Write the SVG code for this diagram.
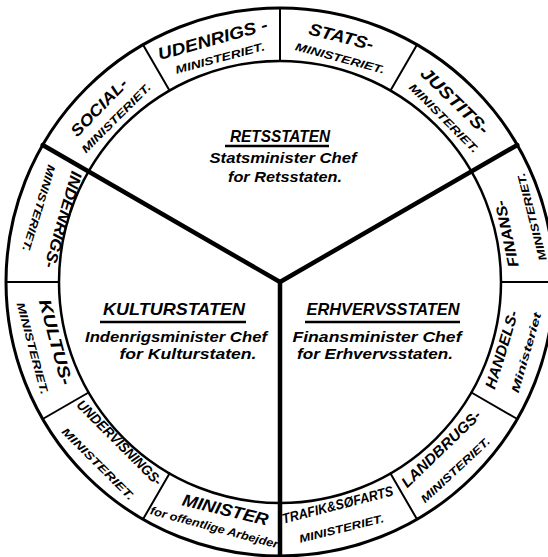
<svg xmlns="http://www.w3.org/2000/svg" width="548" height="557" viewBox="0 0 548 557">
<style>
  .bg { fill: #ffffff; }
  .outer { fill: none; stroke: #000; stroke-width: 3; }
  .inner { fill: none; stroke: #000; stroke-width: 2.5; }
  .thin { stroke: #000; stroke-width: 2; stroke-linecap: round; }
  .thick { stroke: #000; stroke-width: 4.5; stroke-linecap: round; }
  .ul { stroke: #000; stroke-width: 2.5; }
  text { font-family: "Liberation Sans", Arial, sans-serif; font-style: italic; font-weight: bold; fill: #000; text-anchor: middle; }
  .r1 { font-size: 16px; }
  .r2 { font-size: 11px; }
  .head { font-size: 17px; }
  .sub { font-size: 14px; }
</style>

<rect class="bg" x="0" y="0" width="548" height="557"/>

<g id="connectors">
  <circle class="outer" cx="280" cy="282" r="274"/>
  <circle class="inner" cx="280" cy="282" r="221"/>
  <line class="thin" x1="501" y1="282" x2="554" y2="282"/>
  <line class="thin" x1="390.5" y1="90.6" x2="417" y2="44.7"/>
  <line class="thin" x1="280" y1="61" x2="280" y2="8"/>
  <line class="thin" x1="169.5" y1="90.6" x2="143" y2="44.7"/>
  <line class="thin" x1="59" y1="282" x2="6" y2="282"/>
  <line class="thin" x1="88.6" y1="392.5" x2="42.7" y2="419"/>
  <line class="thin" x1="169.5" y1="473.4" x2="143" y2="519.3"/>
  <line class="thin" x1="390.5" y1="473.4" x2="417" y2="519.3"/>
  <line class="thin" x1="471.4" y1="392.5" x2="517.3" y2="419"/>
  <line class="thick" x1="280" y1="282" x2="517.3" y2="145"/>
  <line class="thick" x1="280" y1="282" x2="42.7" y2="145"/>
  <line class="thick" x1="280" y1="282" x2="280" y2="560"/>
</g>

<g id="retsstaten">
  <text x="280" y="142" class="head" textLength="100" lengthAdjust="spacingAndGlyphs">RETSSTATEN</text>
  <line class="ul" x1="225" y1="146" x2="329" y2="146"/>
  <text x="283" y="163" class="sub" textLength="147" lengthAdjust="spacingAndGlyphs">Statsminister Chef</text>
  <text x="285" y="182" class="sub" textLength="114" lengthAdjust="spacingAndGlyphs">for Retsstaten.</text>
</g>
<g id="kulturstaten">
  <text x="174" y="315" class="head" textLength="142" lengthAdjust="spacingAndGlyphs">KULTURSTATEN</text>
  <line class="ul" x1="100" y1="322" x2="246" y2="322"/>
  <text x="176" y="342" class="sub" textLength="182" lengthAdjust="spacingAndGlyphs">Indenrigsminister Chef</text>
  <text x="188" y="359" class="sub" textLength="137" lengthAdjust="spacingAndGlyphs">for Kulturstaten.</text>
</g>
<g id="erhvervsstaten">
  <text x="383" y="315" class="head" textLength="153" lengthAdjust="spacingAndGlyphs">ERHVERVSSTATEN</text>
  <line class="ul" x1="305" y1="322" x2="460" y2="322"/>
  <text x="377" y="342" class="sub" textLength="169" lengthAdjust="spacingAndGlyphs">Finansminister Chef</text>
  <text x="375" y="359" class="sub" textLength="156" lengthAdjust="spacingAndGlyphs">for Erhvervsstaten.</text>
</g>

<g id="statsministeriet">
  <text class="r1" style="font-size:17px" transform="translate(339.8,42.3) rotate(14)" textLength="66" lengthAdjust="spacingAndGlyphs">STATS-</text>
  <text class="r2" transform="translate(339,61.8) rotate(15)" textLength="92" lengthAdjust="spacingAndGlyphs">MINISTERIET.</text>
</g>
<g id="udenrigsministeriet">
  <text class="r1" style="font-size:17px" transform="translate(214.3,45) rotate(-15.5)" textLength="113" lengthAdjust="spacingAndGlyphs">UDENRIGS -</text>
  <text class="r2" transform="translate(221,61.8) rotate(-15)" textLength="92" lengthAdjust="spacingAndGlyphs">MINISTERIET.</text>
</g>
<g id="socialministeriet">
  <text class="r1" transform="translate(103,111.1) rotate(-46)" textLength="74" lengthAdjust="spacingAndGlyphs">SOCIAL-</text>
  <text class="r2" transform="translate(118.8,120.8) rotate(-45)" textLength="93" lengthAdjust="spacingAndGlyphs">MINISTERIET.</text>
</g>
<g id="justitsministeriet">
  <text class="r1" style="font-size:17px" transform="translate(450.9,105) rotate(44)" textLength="88" lengthAdjust="spacingAndGlyphs">JUSTITS-</text>
  <text class="r2" transform="translate(441.2,120.8) rotate(45)" textLength="93" lengthAdjust="spacingAndGlyphs">MINISTERIET.</text>
</g>
<g id="finansministeriet">
  <text class="r1" style="font-size:15px" transform="translate(511.8,232.7) rotate(-102)" textLength="68" lengthAdjust="spacingAndGlyphs">FINANS-</text>
  <text class="r2" transform="translate(535.6,215.9) rotate(-104.5)" textLength="90" lengthAdjust="spacingAndGlyphs">MINISTERIET.</text>
</g>
<g id="handelsministeriet">
  <text class="r1" style="font-size:15px" transform="translate(506.6,351.3) rotate(-73)" textLength="81" lengthAdjust="spacingAndGlyphs">HANDELS-</text>
  <text class="r2" transform="translate(529.9,353.7) rotate(-74)" textLength="83" lengthAdjust="spacingAndGlyphs">Ministeriet</text>
</g>
<g id="landbrugsministeriet">
  <text class="r1" style="font-size:15px" transform="translate(444.6,452.5) rotate(-44)" textLength="104" lengthAdjust="spacingAndGlyphs">LANDBRUGS-</text>
  <text class="r2" transform="translate(458,472.9) rotate(-43)" textLength="90" lengthAdjust="spacingAndGlyphs">MINISTERIET.</text>
</g>
<g id="trafikministeriet">
  <text class="r1" style="font-size:14px" transform="translate(338.8,509.5) rotate(-14.5)" textLength="114" lengthAdjust="spacingAndGlyphs">TRAFIK&amp;SØFARTS</text>
  <text class="r2" transform="translate(342.4,532.3) rotate(-14)" textLength="87" lengthAdjust="spacingAndGlyphs">MINISTERIET.</text>
</g>
<g id="minister-offentlige-arbejder">
  <text class="r1" style="font-size:17px" transform="translate(224,515.4) rotate(13.5)" textLength="88" lengthAdjust="spacingAndGlyphs">MINISTER</text>
  <text class="r2" style="font-size:11.5px" transform="translate(213.2,531.2) rotate(15)" textLength="132" lengthAdjust="spacingAndGlyphs">for offentlige Arbejder</text>
</g>
<g id="undervisningsministeriet">
  <text class="r1" style="font-size:14px" transform="translate(116,446) rotate(45)" textLength="114" lengthAdjust="spacingAndGlyphs">UNDERVISNINGS-</text>
  <text class="r2" transform="translate(95.4,466.6) rotate(45)" textLength="97" lengthAdjust="spacingAndGlyphs">MINISTERIET.</text>
</g>
<g id="kultusministeriet">
  <text class="r1" style="font-size:17px" transform="translate(50.1,343.6) rotate(75)" textLength="88" lengthAdjust="spacingAndGlyphs">KULTUS-</text>
  <text class="r2" transform="translate(28.9,349.3) rotate(75)" textLength="95" lengthAdjust="spacingAndGlyphs">MINISTERIET.</text>
</g>
<g id="indenrigsministeriet">
  <text class="r1" transform="translate(57.9,218.3) rotate(106)" textLength="100" lengthAdjust="spacingAndGlyphs">INDENRIGS-</text>
  <text class="r2" transform="translate(35.2,207.1) rotate(107)" textLength="90" lengthAdjust="spacingAndGlyphs">MINISTERIET.</text>
</g>
</svg>
